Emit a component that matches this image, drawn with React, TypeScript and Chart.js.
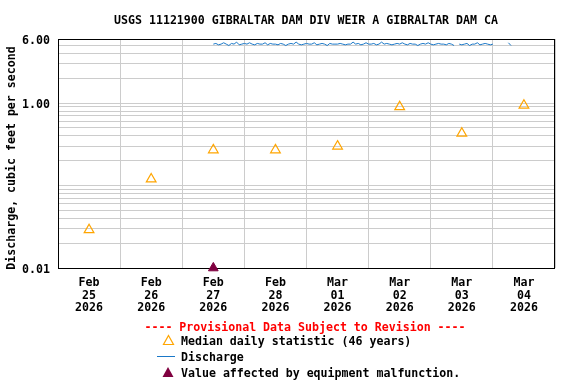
import { useEffect, useRef } from "react";
import { Chart, registerables } from "chart.js";

Chart.register(...registerables);

const FONT_FAMILY = '"DejaVu Sans Mono", "Liberation Mono", monospace';
const FONT_SIZE = 11.6;

const chartTitle = "USGS 11121900 GIBRALTAR DAM DIV WEIR A GIBRALTAR DAM CA";
const yAxisTitle = "Discharge, cubic feet per second";
const provisionalText = "---- Provisional Data Subject to Revision ----";
const legendMedian = "Median daily statistic (46 years)";
const legendDischarge = "Discharge";
const legendMalfunction = "Value affected by equipment malfunction.";

// Days (categories)
const monthLabels = ["Feb", "Feb", "Feb", "Feb", "Mar", "Mar", "Mar", "Mar"];
const dayLabels = ["25", "26", "27", "28", "01", "02", "03", "04"];
const yearLabels = ["2026", "2026", "2026", "2026", "2026", "2026", "2026", "2026"];

// Median daily statistic (plotted at noon of each day)
const medianValues = [0.029, 0.12, 0.27, 0.27, 0.3, 0.9, 0.43, 0.94];

// Discharge, hourly readings starting Feb 27 12:00 (day offset 2.5)
const dischargeStartDay = 2.5;
const dischargeValues: (number | null)[] = [
  5.2, 5.3, 5.1, 5.2, 5.4, 5.2, 5.0, 5.3, 5.2, 5.5, 5.1, 5.2, 5.3, 5.2, 5.4, 5.2, 5.1, 5.3, 5.2, 5.2, 5.4, 5.1, 5.3, 5.2,
  5.2, 5.1, 5.3, 5.2, 5.0, 5.2, 5.3, 5.2, 5.5, 5.2, 5.1, 5.2, 5.3, 5.2, 5.2, 5.4, 5.1, 5.2, 5.3, 5.2, 5.0, 5.3, 5.2, 5.2,
  5.2, 5.3, 5.2, 5.1, 5.2, 5.2, 5.5, 5.2, 5.3, 5.1, 5.2, 5.4, 5.2, 5.2, 5.3, 5.1, 5.2, 5.5, 5.2, 5.3, 5.2, 5.1, 5.2, 5.3,
  5.2, 5.4, 5.2, 5.1, 5.3, 5.2, 5.2, 5.0, 5.2, 5.3, 5.2, 5.4, 5.2, 5.1, 5.2, 5.3, 5.2, 5.2, 5.1, 5.3, 5.2, 5.0, null, 5.2,
  5.1, 5.2, 5.3, 5.0, 5.2, 5.2, 5.4, 5.1, 5.2, 5.3, 5.2, 5.1, 5.2,
  null, null, null, null, null,
  5.4, 5.0,
];

// Equipment malfunction marker
const malfunctionDays = [2.5];
const malfunctionValues = [0.01];

// Y axis ticks
const yGridValues = [
  0.01, 0.02, 0.03, 0.04, 0.05, 0.06, 0.07, 0.08, 0.09,
  0.1, 0.2, 0.3, 0.4, 0.5, 0.6, 0.7, 0.8, 0.9,
  1, 2, 3, 4, 5, 6,
];
const yLabelledValues = [0.01, 1, 6];

const ORANGE = "#FFA500";
const BLUE = "#1a78c8";
const MAROON = "#800040";
const GRID = "#cccccc";

const font = `bold ${FONT_SIZE}px ${FONT_FAMILY}`;

const decorPlugin = {
  id: "decor",
  beforeDatasetsDraw(chart: any) {
    const { ctx, chartArea } = chart;
    ctx.save();
    ctx.strokeStyle = "#000";
    ctx.lineWidth = 1;
    ctx.strokeRect(
      Math.round(chartArea.left) + 0.5,
      Math.round(chartArea.top) + 0.5,
      Math.round(chartArea.right - chartArea.left) - 1,
      Math.round(chartArea.bottom - chartArea.top)
    );
    ctx.restore();
  },
  afterDraw(chart: any) {
    const { ctx } = chart;
    ctx.save();
    ctx.font = font;
    ctx.fillStyle = "#000";
    ctx.textBaseline = "middle";
    ctx.textAlign = "center";
    ctx.fillText(chartTitle, 306, 21);

    ctx.save();
    ctx.translate(12, 158);
    ctx.rotate(-Math.PI / 2);
    ctx.fillText(yAxisTitle, 0, 0);
    ctx.restore();

    ctx.fillStyle = "#ff0000";
    ctx.fillText(provisionalText, 305, 328);

    ctx.textAlign = "left";
    ctx.fillStyle = "#000";
    ctx.fillText(legendMedian, 181, 342);
    ctx.fillText(legendDischarge, 181, 357.5);
    ctx.fillText(legendMalfunction, 181, 374);

    // median symbol
    ctx.strokeStyle = ORANGE;
    ctx.lineWidth = 1.2;
    ctx.beginPath();
    ctx.moveTo(168.5, 335.5);
    ctx.lineTo(173.5, 344.5);
    ctx.lineTo(163.5, 344.5);
    ctx.closePath();
    ctx.stroke();

    // discharge symbol
    ctx.strokeStyle = BLUE;
    ctx.lineWidth = 1;
    ctx.beginPath();
    ctx.moveTo(157, 356.5);
    ctx.lineTo(175, 356.5);
    ctx.stroke();

    // malfunction symbol
    ctx.fillStyle = MAROON;
    ctx.beginPath();
    ctx.moveTo(168, 367);
    ctx.lineTo(173.5, 377);
    ctx.lineTo(162.5, 377);
    ctx.closePath();
    ctx.fill();

    ctx.restore();
  },
};

export default function App() {
  const canvasRef = useRef<HTMLCanvasElement | null>(null);

  useEffect(() => {
    if (!canvasRef.current) return;
    const medianData = medianValues.map((v, i) => ({ x: i + 0.5, y: v }));
    const dischargeData = dischargeValues.map((v, i) => ({
      x: dischargeStartDay + i / 24,
      y: v,
    }));
    const malfunctionData = malfunctionValues.map((v, i) => ({ x: malfunctionDays[i], y: v }));

    const tickFont = { family: FONT_FAMILY, size: FONT_SIZE, weight: "bold" as const, lineHeight: 1.07 };

    const chart = new Chart(canvasRef.current, {
      type: "line",
      data: {
        datasets: [
          {
            label: "Discharge",
            data: dischargeData as any,
            borderColor: BLUE,
            borderWidth: 1,
            pointRadius: 0,
            spanGaps: false,
            fill: false,
          },
          {
            label: "Median daily statistic",
            data: medianData,
            showLine: false,
            pointStyle: "triangle",
            pointRadius: 5.6,
            borderColor: ORANGE,
            backgroundColor: "rgba(0,0,0,0)",
            borderWidth: 1.2,
          },
          {
            label: "Malfunction",
            data: malfunctionData,
            showLine: false,
            pointStyle: "triangle",
            pointRadius: 5.6,
            borderColor: MAROON,
            backgroundColor: MAROON,
            borderWidth: 1,
            clip: false as any,
          },
        ],
      },
      options: {
        responsive: false,
        animation: false,
        devicePixelRatio: 1,
        events: [],
        layout: { padding: { top: 39, right: 21, left: 0, bottom: 0 } },
        plugins: {
          legend: { display: false },
          tooltip: { enabled: false },
          title: { display: false },
        },
        scales: {
          x: {
            type: "linear",
            min: 0,
            max: 8,
            afterBuildTicks: (scale: any) => {
              scale.ticks = monthLabels.map((_, i) => ({ value: i + 0.5 }));
            },
            afterFit: (scale: any) => {
              scale.height = 116;
            },
            grid: { offset: true, color: GRID, drawTicks: false, lineWidth: 1 },
            border: { display: false },
            ticks: {
              autoSkip: false,
              maxRotation: 0,
              minRotation: 0,
              padding: 9,
              color: "#000",
              font: tickFont,
              callback: (_v: any, i: number) => [monthLabels[i], dayLabels[i], yearLabels[i]],
            },
          },
          y: {
            type: "logarithmic",
            min: 0.01,
            max: 6,
            afterBuildTicks: (scale: any) => {
              scale.ticks = yGridValues.map((v) => ({ value: v }));
            },
            afterFit: (scale: any) => {
              scale.width = 58;
            },
            grid: { color: GRID, drawTicks: false, lineWidth: 1 },
            border: { display: false },
            ticks: {
              autoSkip: false,
              padding: 8,
              labelOffset: 2,
              color: "#000",
              font: { family: FONT_FAMILY, size: FONT_SIZE, weight: "bold" as const },
              callback: (v: any) => (yLabelledValues.includes(Number(v)) ? Number(v).toFixed(2) : ""),
            },
          },
        },
      },
      plugins: [decorPlugin],
    });
    return () => chart.destroy();
  }, []);

  return (
    <div style={{ position: "fixed", left: 0, top: 0, width: 576, height: 384, background: "#fff" }}>
      <canvas ref={canvasRef} width={576} height={384} style={{ display: "block", width: 576, height: 384 }} />
    </div>
  );
}
